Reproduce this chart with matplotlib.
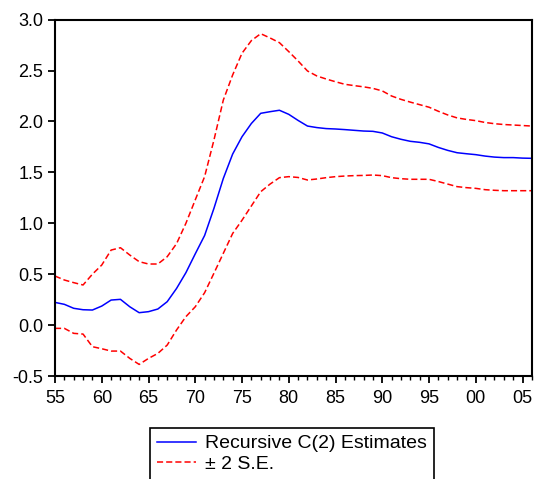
import matplotlib.pyplot as plt
from matplotlib.ticker import MultipleLocator
import numpy as np

plt.rcParams['font.family'] = ['Liberation Sans', 'DejaVu Sans']

years = np.arange(1955, 2007)

# recursive coefficient estimate
estimate = [0.223, 0.204, 0.165, 0.151, 0.148, 0.187, 0.246, 0.253, 0.180, 0.122,
            0.132, 0.158, 0.230, 0.360, 0.515, 0.700, 0.880, 1.147, 1.440, 1.680,
            1.850, 1.980, 2.080, 2.096, 2.110, 2.070, 2.010, 1.955, 1.940, 1.930,
            1.926, 1.920, 1.913, 1.906, 1.903, 1.887, 1.850, 1.825, 1.805, 1.795,
            1.780, 1.745, 1.716, 1.693, 1.683, 1.674, 1.660, 1.650, 1.645, 1.645,
            1.640, 1.638]

upper = [0.482, 0.443, 0.417, 0.394, 0.500, 0.590, 0.737, 0.760, 0.688, 0.623,
         0.600, 0.600, 0.672, 0.800, 1.000, 1.230, 1.458, 1.818, 2.210, 2.457,
         2.670, 2.794, 2.862, 2.820, 2.774, 2.686, 2.594, 2.496, 2.447, 2.417,
         2.390, 2.365, 2.352, 2.340, 2.325, 2.300, 2.250, 2.217, 2.190, 2.165,
         2.140, 2.100, 2.064, 2.035, 2.020, 2.008, 1.990, 1.978, 1.970, 1.965,
         1.960, 1.955]

lower = [-0.032, -0.032, -0.081, -0.088, -0.212, -0.232, -0.255, -0.255, -0.327, -0.386,
         -0.327, -0.278, -0.196, -0.048, 0.083, 0.180, 0.318, 0.510, 0.705, 0.900,
         1.030, 1.170, 1.310, 1.385, 1.448, 1.458, 1.450, 1.425, 1.435, 1.448,
         1.458, 1.464, 1.468, 1.470, 1.474, 1.468, 1.448, 1.438, 1.432, 1.432,
         1.432, 1.410, 1.385, 1.360, 1.350, 1.343, 1.330, 1.324, 1.320, 1.320,
         1.320, 1.320]

x_ticks = [1955, 1960, 1965, 1970, 1975, 1980, 1985, 1990, 1995, 2000, 2005]
x_labels = ["55", "60", "65", "70", "75", "80", "85", "90", "95", "00", "05"]
y_ticks = [-0.5, 0.0, 0.5, 1.0, 1.5, 2.0, 2.5, 3.0]

fig = plt.figure(figsize=(5.34, 4.79), dpi=100)
ax = fig.add_axes([0.103, 0.215, 0.893, 0.744])

ax.plot(years, estimate, color='#0000ff', lw=1.1, label='Recursive C(2) Estimates')
ax.plot(years, upper, color='#ff0000', lw=1.1, dashes=(4, 2), label='± 2 S.E.')
ax.plot(years, lower, color='#ff0000', lw=1.1, dashes=(4, 2))

ax.set_xlim(1955, 2006)
ax.set_ylim(-0.5, 3.0)
ax.set_xticks(x_ticks)
ax.set_xticklabels(x_labels)
ax.xaxis.set_minor_locator(MultipleLocator(1))
ax.set_yticks(y_ticks)
ax.set_yticklabels(["%.1f" % v for v in y_ticks])

ax.tick_params(axis='both', which='major', direction='out', labelsize=13,
               top=False, right=False, width=1.3, length=5, colors='black')
ax.tick_params(axis='x', which='major', pad=5)
ax.tick_params(axis='x', which='minor', direction='out', length=3, width=1, top=False)
for s in ax.spines.values():
    s.set_linewidth(1.5)
    s.set_color('black')

leg = ax.legend(loc='upper left', bbox_to_anchor=(0.281, 0.1065),
                bbox_transform=fig.transFigure, borderaxespad=0,
                fontsize=14, handlelength=2.0, handletextpad=0.5,
                labelspacing=0.15, borderpad=0.35, fancybox=False,
                framealpha=1, edgecolor='black')
leg.get_frame().set_linewidth(1.2)

fig.savefig('out.png', dpi=100)
